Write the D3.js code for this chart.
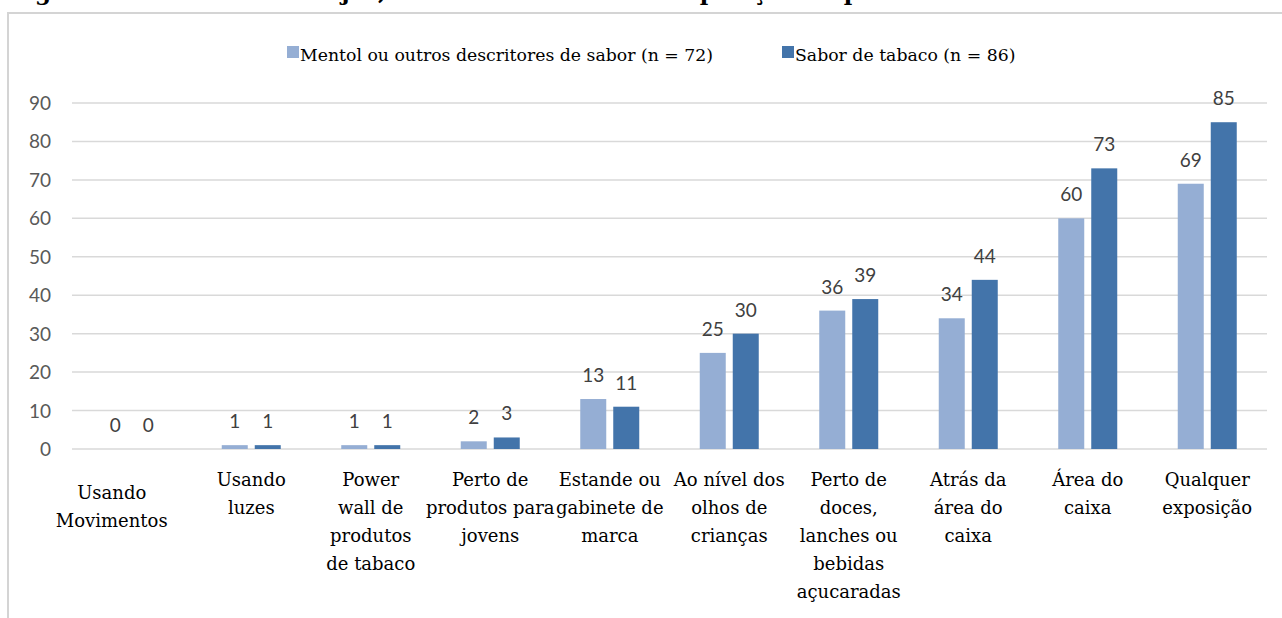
<!DOCTYPE html>
<html>
<head>
<meta charset="utf-8">
<script src="https://cdn.jsdelivr.net/npm/d3@7"></script>
<style>
  body { margin: 0; background: #fff; }
  svg { display: block; }
</style>
</head>
<body>
<div id="chart"></div>
<script>
const categories = [
  ["Usando", "Movimentos"],
  ["Usando", "luzes"],
  ["Power", "wall de", "produtos", "de tabaco"],
  ["Perto de", "produtos para", "jovens"],
  ["Estande ou", "gabinete de", "marca"],
  ["Ao nível dos", "olhos de", "crianças"],
  ["Perto de", "doces,", "lanches ou", "bebidas", "açucaradas"],
  ["Atrás da", "área do", "caixa"],
  ["Área do", "caixa"],
  ["Qualquer", "exposição"]
];
const mentol = [0, 1, 1, 2, 13, 25, 36, 34, 60, 69];
const tabaco = [0, 1, 1, 3, 11, 30, 39, 44, 73, 85];
const seriesNames = ["Mentol ou outros descritores de sabor (n = 72)", "Sabor de tabaco (n = 86)"];
const yTicks = [0, 10, 20, 30, 40, 50, 60, 70, 80, 90];
const title = "Figura 3: Número de varejos, Sabor de tabaco com exposição de produtos de tabaco";

const WIDTH = 1282,
  HEIGHT = 618,
  COLORS = ["#95aed4", "#4374aa"],
  serif = "'DejaVu Serif', serif",
  sans = "Lato, 'Open Sans', sans-serif";

const svg = d3.select("#chart").append("svg")
  .attr("width", WIDTH)
  .attr("height", HEIGHT);

// caption above the frame, cut off by the top edge as in the source
svg.append("text")
  .attr("x", 10)
  .attr("y", 0)
  .attr("font-family", serif)
  .attr("font-weight", "bold")
  .attr("font-size", 23)
  .attr("fill", "#000")
  .text(title);

// chart frame
svg.append("rect")
  .attr("x", 8)
  .attr("y", 13)
  .attr("width", 1400)
  .attr("height", 700)
  .attr("fill", "#fff")
  .attr("stroke", "#d4d4d4")
  .attr("stroke-width", 2);

const x = d3.scaleBand()
  .domain(d3.range(categories.length))
  .range([72, 1267]);

const y = d3.scaleLinear()
  .domain([0, 90])
  .range([449, 103]);

const barW = 26, gap = 7;
const offsets = [-(barW + gap / 2), gap / 2];

// gridlines
svg.append("g")
  .selectAll("line")
  .data(yTicks)
  .enter()
  .append("line")
  .attr("x1", 72)
  .attr("x2", 1267)
  .attr("y1", d => y(d))
  .attr("y2", d => y(d))
  .attr("stroke", "#d9d9d9")
  .attr("stroke-width", 1.5);

svg.append("g")
  .selectAll("text")
  .data(yTicks)
  .enter()
  .append("text")
  .attr("x", 51)
  .attr("y", d => y(d) + 7)
  .attr("text-anchor", "end")
  .attr("font-family", sans)
  .attr("font-size", 19)
  .attr("fill", "#595959")
  .text(d => d);

// bars
[mentol, tabaco].forEach((values, s) => {
  const g = svg.append("g");
  g.selectAll("rect")
    .data(values)
    .enter()
    .append("rect")
    .attr("x", (d, i) => x(i) + x.bandwidth() / 2 + offsets[s])
    .attr("y", d => y(d))
    .attr("width", barW)
    .attr("height", d => y(0) - y(d))
    .attr("fill", COLORS[s]);

  g.selectAll("text")
    .data(values)
    .enter()
    .append("text")
    .attr("x", (d, i) => x(i) + x.bandwidth() / 2 + offsets[s] + barW / 2)
    .attr("y", d => y(d) - 17)
    .attr("text-anchor", "middle")
    .attr("font-family", sans)
    .attr("font-size", 19)
    .attr("fill", "#404040")
    .text(d => d);
});

// category labels
const cat = svg.append("g")
  .selectAll("text")
  .data(categories)
  .enter()
  .append("text")
  .attr("text-anchor", "middle")
  .attr("font-family", serif)
  .attr("font-size", 18)
  .attr("fill", "#000")
  .attr("transform", (d, i) => `translate(${x(i) + x.bandwidth() / 2 - (i === 0 ? 20 : 0)},${i === 0 ? 499 : 486})`);

cat.selectAll("tspan")
  .data(d => d)
  .enter()
  .append("tspan")
  .attr("x", 0)
  .attr("y", (d, j) => j * 28)
  .text(d => d);

// legend
const legendX = [287, 782];
seriesNames.forEach((name, s) => {
  svg.append("rect")
    .attr("x", legendX[s])
    .attr("y", 46)
    .attr("width", 12)
    .attr("height", 12)
    .attr("fill", COLORS[s]);
  svg.append("text")
    .attr("x", legendX[s] + 13)
    .attr("y", 61)
    .attr("font-family", serif)
    .attr("font-size", 17.3)
    .attr("fill", "#000")
    .text(name);
});
</script>
</body>
</html>
